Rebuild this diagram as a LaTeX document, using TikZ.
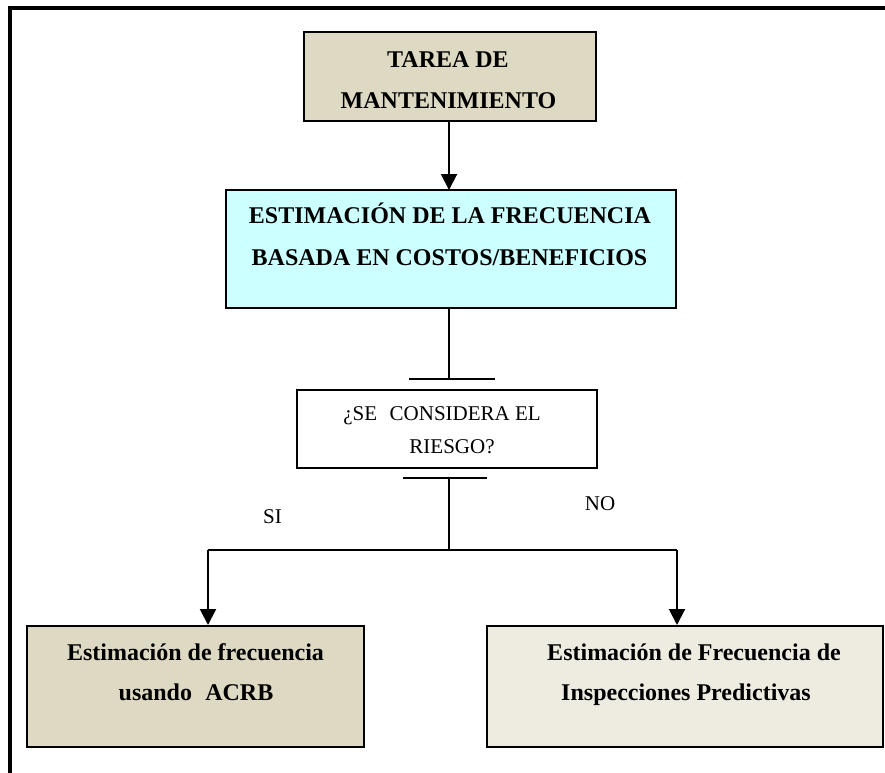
\documentclass[tikz,border=0pt]{standalone}
\usepackage{fontspec}
\setmainfont{Liberation Serif}
\usetikzlibrary{arrows.meta}
\definecolor{tanfill}{HTML}{DDD9C3}
\definecolor{creamfill}{HTML}{EEECE1}
\definecolor{cyanfill}{HTML}{CCFFFF}
\tikzset{
  box/.style={draw=black, line width=2pt, inner sep=0pt},
  bigbold/.style={font=\fontsize{24}{24}\selectfont\bfseries, anchor=base, inner sep=0pt},
  plain/.style={font=\fontsize{21}{21}\selectfont, anchor=base, inner sep=0pt},
  link/.style={line width=2pt},
  arrowlink/.style={line width=2pt, -{Triangle[width=16pt,length=16pt]}},
}
\begin{document}
\begin{tikzpicture}[x=1pt, y=-1pt]
  \useasboundingbox (0,0) rectangle (885,772);
  % frame (top and left edges)
  \draw[line width=4pt, line join=miter] (10,780) -- (10,7.5) -- (895,7.5);

  % boxes
  \node[box, fill=tanfill, minimum width=292pt, minimum height=89pt] (tarea) at (450,76.5) {};
  \node[box, fill=cyanfill, minimum width=450pt, minimum height=118pt] (estim) at (451,249) {};
  \node[box, fill=white, minimum width=300pt, minimum height=78pt] (riesgo) at (447,429) {};
  \node[box, fill=tanfill, minimum width=337pt, minimum height=121pt] (acrb) at (195.5,686.5) {};
  \node[box, fill=creamfill, minimum width=396pt, minimum height=121pt] (pred) at (685,686.5) {};

  % box texts
  \node[bigbold] (tareaA) at (448,67) {TAREA DE};
  \node[bigbold] (tareaB) at (448.5,108) {MANTENIMIENTO};
  \node[bigbold] (estimA) at (450,223) {ESTIMACIÓN DE LA FRECUENCIA};
  \node[bigbold] (estimB) at (449.5,265) {BASADA EN COSTOS/BENEFICIOS};
  \node[plain] (riesgoA) at (442,420) {¿SE\hspace{0.6em}CONSIDERA EL};
  \node[plain] (riesgoB) at (452,453) {RIESGO?};
  \node[bigbold] (acrbA) at (195.5,660) {Estimación de frecuencia};
  \node[bigbold] (acrbB) at (196,700) {usando\hspace{0.55em}ACRB};
  \node[bigbold] (predA) at (694,660) {Estimación de Frecuencia de};
  \node[bigbold] (predB) at (686,700) {Inspecciones Predictivas};

  % branch labels
  \node[plain] (si) at (272.5,523) {SI};
  \node[plain] (no) at (600,510) {NO};

  % connector points
  \coordinate (barAl) at (409,379);
  \coordinate (barAr) at (495,379);
  \coordinate (barAc) at (449,379);
  \coordinate (barBl) at (403,478);
  \coordinate (barBr) at (487,478);
  \coordinate (barBc) at (449,478);
  \coordinate (split) at (449,550);
  \coordinate (splitL) at (208,550);
  \coordinate (splitR) at (677,550);

  % connectors
  \draw[arrowlink] (449,121) -- (449,190);
  \draw[link] (estim.south -| barAc) -- (barAc);
  \draw[link] (barAl) -- (barAr);
  \draw[link] (barBl) -- (barBr);
  \draw[link] (barBc) -- (split);
  \draw[link] (splitL) -- (splitR);
  \draw[arrowlink] (splitL) -- (splitL |- acrb.north);
  \draw[arrowlink] (splitR) -- (splitR |- pred.north);
\end{tikzpicture}
\end{document}
